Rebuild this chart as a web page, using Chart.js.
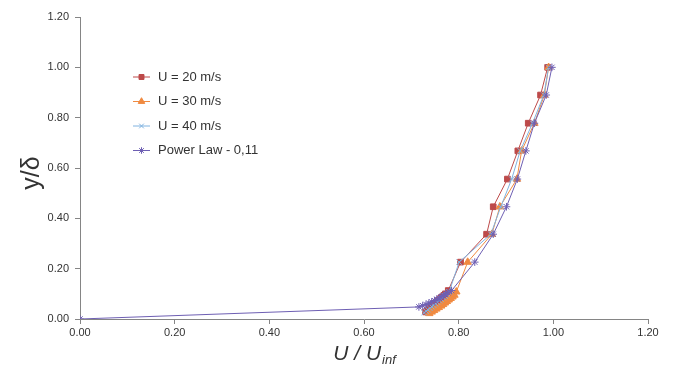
<!DOCTYPE html>
<html>
<head>
<meta charset="utf-8">
<script src="https://cdn.jsdelivr.net/npm/chart.js@4.4.1/dist/chart.umd.min.js"></script>
<style>
  html, body { margin: 0; padding: 0; background: #fff; }
  #wrap { width: 675px; height: 375px; position: relative; }
</style>
</head>
<body>
<div id="wrap"><canvas id="profileChart"></canvas></div>
<script>
// Velocity profiles: U/Uinf (x) against y/delta (y)
const u20X = [0.730, 0.734, 0.737, 0.741, 0.744, 0.748, 0.751, 0.755, 0.758, 0.762, 0.765, 0.769, 0.772, 0.778,
              0.804, 0.859, 0.873, 0.903, 0.925, 0.947, 0.973, 0.988];
const u20Y = [0.028, 0.034, 0.040, 0.046, 0.052, 0.058, 0.064, 0.070, 0.076, 0.082, 0.088, 0.094, 0.100, 0.113,
              0.226, 0.337, 0.446, 0.556, 0.668, 0.778, 0.890, 1.000];

const u30X = [0.738, 0.743, 0.748, 0.753, 0.758, 0.763, 0.767, 0.771, 0.775, 0.779, 0.783, 0.787, 0.791, 0.795,
              0.819, 0.870, 0.887, 0.923, 0.933, 0.960, 0.981, 0.990];
const u30Y = [0.022, 0.028, 0.034, 0.040, 0.046, 0.052, 0.058, 0.064, 0.070, 0.076, 0.082, 0.088, 0.095, 0.108,
              0.226, 0.337, 0.446, 0.556, 0.668, 0.778, 0.890, 1.000];

const u40X = [0.727, 0.731, 0.735, 0.739, 0.743, 0.747, 0.751, 0.755, 0.759, 0.763, 0.767, 0.771, 0.775, 0.780,
              0.801, 0.868, 0.889, 0.912, 0.930, 0.956, 0.980, 0.990];
const u40Y = [0.025, 0.031, 0.037, 0.043, 0.049, 0.055, 0.061, 0.067, 0.073, 0.079, 0.085, 0.091, 0.097, 0.108,
              0.226, 0.337, 0.446, 0.556, 0.668, 0.778, 0.890, 1.000];

const powX = [0.000, 0.716, 0.724, 0.731, 0.737, 0.743, 0.749, 0.754, 0.759, 0.763, 0.768, 0.772, 0.777, 0.785,
              0.834, 0.873, 0.901, 0.924, 0.942, 0.960, 0.985, 0.997];
const powY = [0.000, 0.048, 0.053, 0.058, 0.063, 0.068, 0.073, 0.078, 0.083, 0.088, 0.093, 0.098, 0.104, 0.113,
              0.226, 0.337, 0.446, 0.556, 0.668, 0.778, 0.890, 1.000];

const xTicks = [0, 0.2, 0.4, 0.6, 0.8, 1.0, 1.2];
const yTicks = [0, 0.2, 0.4, 0.6, 0.8, 1.0, 1.2];

const toPoints = (xs, ys) => xs.map((x, i) => ({ x: x, y: ys[i] }));

const series = [
    { label: 'U = 20 m/s', xs: u20X, ys: u20Y, color: '#bd4a4a', marker: 'rect', radius: 4, order: 4 },
    { label: 'U = 30 m/s', xs: u30X, ys: u30Y, color: '#f08a40', marker: 'triangle', radius: 4.3, order: 3 },
    { label: 'U = 40 m/s', xs: u40X, ys: u40Y, color: '#80b3e0', marker: 'crossRot', radius: 3.8, order: 2 },
    { label: 'Power Law - 0,11', xs: powX, ys: powY, color: '#6e5fb3', marker: 'star', radius: 3.8, order: 1 }
];

const axisColor = '#858585';
const labelColor = '#333333';

// legend and axis titles drawn onto the canvas
const extrasPlugin = {
    id: 'extras',
    afterDraw(chart) {
        const c = chart.ctx;
        const area = chart.chartArea;
        c.save();

        // legend
        let ly = 77;
        series.forEach(s => {
            c.strokeStyle = s.color;
            c.lineWidth = 1;
            c.beginPath();
            c.moveTo(133, ly);
            c.lineTo(150, ly);
            c.stroke();
            c.fillStyle = s.color;
            Chart.helpers.drawPoint(c, { pointStyle: s.marker, radius: s.radius - 0.5, borderWidth: 1 }, 141.5, ly);
            c.fillStyle = labelColor;
            c.font = '13px "Liberation Sans", Arial, sans-serif';
            c.textBaseline = 'middle';
            c.textAlign = 'left';
            c.fillText(s.label, 158, ly);
            ly += 24.5;
        });

        // y axis title
        c.save();
        c.translate(32, (area.top + area.bottom) / 2 + 5);
        c.rotate(-Math.PI / 2);
        c.font = '25px "Liberation Sans", Arial, sans-serif';
        c.fillStyle = labelColor;
        c.textAlign = 'center';
        c.textBaseline = 'middle';
        c.fillText('y/δ', 0, 0);
        c.restore();

        // x axis title with subscript
        c.fillStyle = labelColor;
        c.textBaseline = 'alphabetic';
        c.textAlign = 'left';
        const main = 'U / U';
        c.font = 'italic 21px "Liberation Sans", Arial, sans-serif';
        const wMain = c.measureText(main).width;
        c.font = 'italic 13px "Liberation Sans", Arial, sans-serif';
        const wSub = c.measureText('inf').width;
        const startX = 364 - (wMain + wSub) / 2;
        c.font = 'italic 21px "Liberation Sans", Arial, sans-serif';
        c.fillText(main, startX, 360);
        c.font = 'italic 13px "Liberation Sans", Arial, sans-serif';
        c.fillText('inf', startX + wMain + 1, 364);

        c.restore();
    }
};

new Chart(document.getElementById('profileChart'), {
    type: 'scatter',
    data: {
        datasets: series.map(s => ({
            label: s.label,
            data: toPoints(s.xs, s.ys),
            showLine: true,
            borderColor: s.color,
            backgroundColor: s.color,
            borderWidth: 1,
            pointStyle: s.marker,
            pointRadius: s.radius,
            pointBorderWidth: 1,
            pointBorderColor: s.color,
            pointBackgroundColor: s.color,
            tension: 0,
            order: s.order
        }))
    },
    options: {
        responsive: true,
        maintainAspectRatio: false,
        animation: false,
        layout: {
            padding: { top: 17, right: 27, left: 0, bottom: 0 }
        },
        plugins: {
            legend: { display: false },
            tooltip: { enabled: false }
        },
        scales: {
            x: {
                type: 'linear',
                min: 0,
                max: 1.2,
                afterBuildTicks: scale => {
                    scale.ticks = xTicks.map(v => ({ value: v }));
                },
                afterFit: scale => { scale.height = 56; },
                grid: {
                    display: true,
                    drawOnChartArea: false,
                    drawTicks: true,
                    tickLength: 5,
                    color: axisColor
                },
                border: { display: true, color: axisColor, width: 1 },
                ticks: {
                    color: labelColor,
                    font: { size: 11, family: '"Liberation Sans", Arial, sans-serif' },
                    padding: 2,
                    maxRotation: 0,
                    callback: v => Number(v).toFixed(2)
                }
            },
            y: {
                type: 'linear',
                min: 0,
                max: 1.2,
                afterBuildTicks: scale => {
                    scale.ticks = yTicks.map(v => ({ value: v }));
                },
                afterFit: scale => { scale.width = 80; },
                grid: {
                    display: true,
                    drawOnChartArea: false,
                    drawTicks: true,
                    tickLength: 5,
                    color: axisColor
                },
                border: { display: true, color: axisColor, width: 1 },
                ticks: {
                    color: labelColor,
                    font: { size: 11, family: '"Liberation Sans", Arial, sans-serif' },
                    padding: 6,
                    callback: v => Number(v).toFixed(2)
                }
            }
        }
    },
    plugins: [extrasPlugin]
});
</script>
</body>
</html>
